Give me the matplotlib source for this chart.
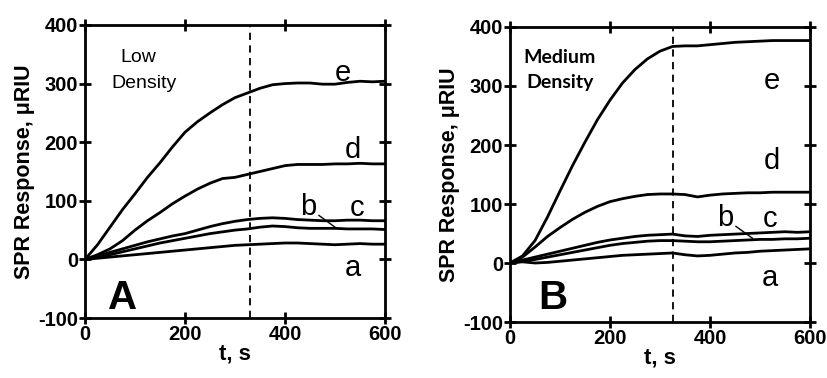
import matplotlib
matplotlib.use("Agg")
import matplotlib.pyplot as plt

plt.rcParams['font.family'] = ['Liberation Sans', 'DejaVu Sans']
plt.rcParams['axes.unicode_minus'] = False

t = [0, 25, 50, 75, 100, 125, 150, 175, 200, 225, 250, 275, 300, 325, 350,
     375, 400, 425, 450, 475, 500, 525, 550, 575, 600]

# Panel A - Low density
A_e = [0, 25, 55, 85, 112, 140, 165, 192, 217, 235, 250, 264, 276, 284, 292,
       298, 300, 301, 301, 299, 299, 302, 304, 303, 304]
A_d = [0, 8, 18, 32, 50, 66, 80, 95, 108, 120, 130, 138, 140, 145, 150,
       155, 160, 162, 162, 162, 163, 163, 164, 163, 163]
A_c = [0, 6, 12, 18, 24, 30, 35, 40, 44, 50, 56, 61, 65, 68, 70,
       71, 70, 68, 67, 66, 66, 67, 67, 66, 66]
A_b = [0, 4, 8, 13, 18, 23, 28, 32, 36, 40, 44, 47, 50, 52, 55,
       57, 56, 54, 53, 53, 53, 52, 52, 52, 51]
A_a = [0, 2, 4, 6, 8, 10, 12, 14, 16, 18, 20, 22, 24, 25, 26,
       27, 28, 28, 27, 26, 25, 26, 27, 26, 26]

# Panel B - Medium density
B_e = [0, 12, 38, 78, 122, 165, 205, 243, 276, 305, 328, 346, 359, 367, 368,
       368, 370, 372, 374, 375, 376, 377, 377, 377, 377]
B_d = [0, 10, 27, 45, 60, 74, 86, 96, 104, 109, 113, 116, 117, 117, 116,
       112, 115, 117, 118, 119, 119, 120, 120, 120, 120]
B_c = [0, 5, 10, 15, 20, 25, 30, 35, 39, 42, 45, 47, 48, 49, 46,
       45, 47, 48, 49, 50, 51, 52, 53, 52, 53]
B_b = [0, 3, 6, 10, 14, 18, 22, 26, 30, 33, 35, 37, 38, 38, 37,
       36, 36, 37, 38, 39, 40, 40, 41, 41, 42]
B_a = [0, 2, 0, 1, 3, 5, 7, 9, 11, 13, 14, 15, 16, 17, 14,
       12, 13, 15, 17, 18, 20, 21, 22, 23, 24]

x_ticks = [0, 200, 400, 600]
y_ticks = [-100, 0, 100, 200, 300, 400]
y_tick_labels = ['-100', '0', '100', '200', '300', '400']

fig = plt.figure(figsize=(8.27, 3.78), dpi=100)
axA = fig.add_axes([0.1028, 0.1587, 0.3627, 0.7752])
axB = fig.add_axes([0.6167, 0.1481, 0.3627, 0.7805])

def style(ax, dash_x):
    ax.set_xlim(0, 600)
    ax.set_ylim(-100, 400)
    ax.set_xticks(x_ticks)
    ax.set_xticklabels([str(v) for v in x_ticks])
    ax.set_yticks(y_ticks)
    ax.set_yticklabels(y_tick_labels)
    for s in ax.spines.values():
        s.set_linewidth(2)
    ax.tick_params(direction='inout', length=8, width=2, top=True, right=True,
                   labelsize=14.5, pad=1)
    for lab in ax.get_xticklabels() + ax.get_yticklabels():
        lab.set_fontweight('bold')
    ax.set_xlabel('t, s', fontsize=16, fontweight='bold', labelpad=0)
    ax.set_ylabel('SPR Response, \u03bcRIU', fontsize=15.5, fontweight='bold', labelpad=2)
    ax.axvline(dash_x, color='black', lw=1.3, ls=(0, (4, 3)))

style(axA, 330)
style(axB, 326)

for ys in (A_e, A_d, A_c, A_b, A_a):
    axA.plot(t, ys, color='black', lw=2)
for ys in (B_e, B_d, B_c, B_b, B_a):
    axB.plot(t, ys, color='black', lw=2)

lab_fs = 21
# Panel A labels
axA.text(516, 318, 'e', fontsize=lab_fs, ha='center', va='center')
axA.text(536, 187, 'd', fontsize=lab_fs, ha='center', va='center')
axA.text(446, 90, 'b', fontsize=lab_fs, ha='center', va='center')
axA.text(544, 88, 'c', fontsize=lab_fs, ha='center', va='center')
axA.text(536, -15, 'a', fontsize=lab_fs, ha='center', va='center')
axA.plot([468, 500], [75, 55], color='black', lw=1)
axA.text(107, 345, 'Low', fontsize=14, ha='center', va='center')
axA.text(117, 301, 'Density', fontsize=14, ha='center', va='center')
axA.text(76, -66, 'A', fontsize=29, fontweight='bold', ha='center', va='center')

# Panel B labels
axB.text(524, 308, 'e', fontsize=lab_fs, ha='center', va='center')
axB.text(524, 173, 'd', fontsize=lab_fs, ha='center', va='center')
axB.text(430, 76, 'b', fontsize=lab_fs, ha='center', va='center')
axB.text(520, 74, 'c', fontsize=lab_fs, ha='center', va='center')
axB.text(520, -25, 'a', fontsize=lab_fs, ha='center', va='center')
axB.plot([452, 485], [62, 42], color='black', lw=1)
axB.text(100, 349, 'Medium', fontsize=14, ha='center', va='center', fontweight='bold',
         family=['Lato', 'DejaVu Sans'])
axB.text(101, 306, 'Density', fontsize=14, ha='center', va='center', fontweight='bold',
         family=['Lato', 'DejaVu Sans'])
axB.text(86, -59, 'B', fontsize=29, fontweight='bold', ha='center', va='center')

fig.savefig('out.png', dpi=100)
